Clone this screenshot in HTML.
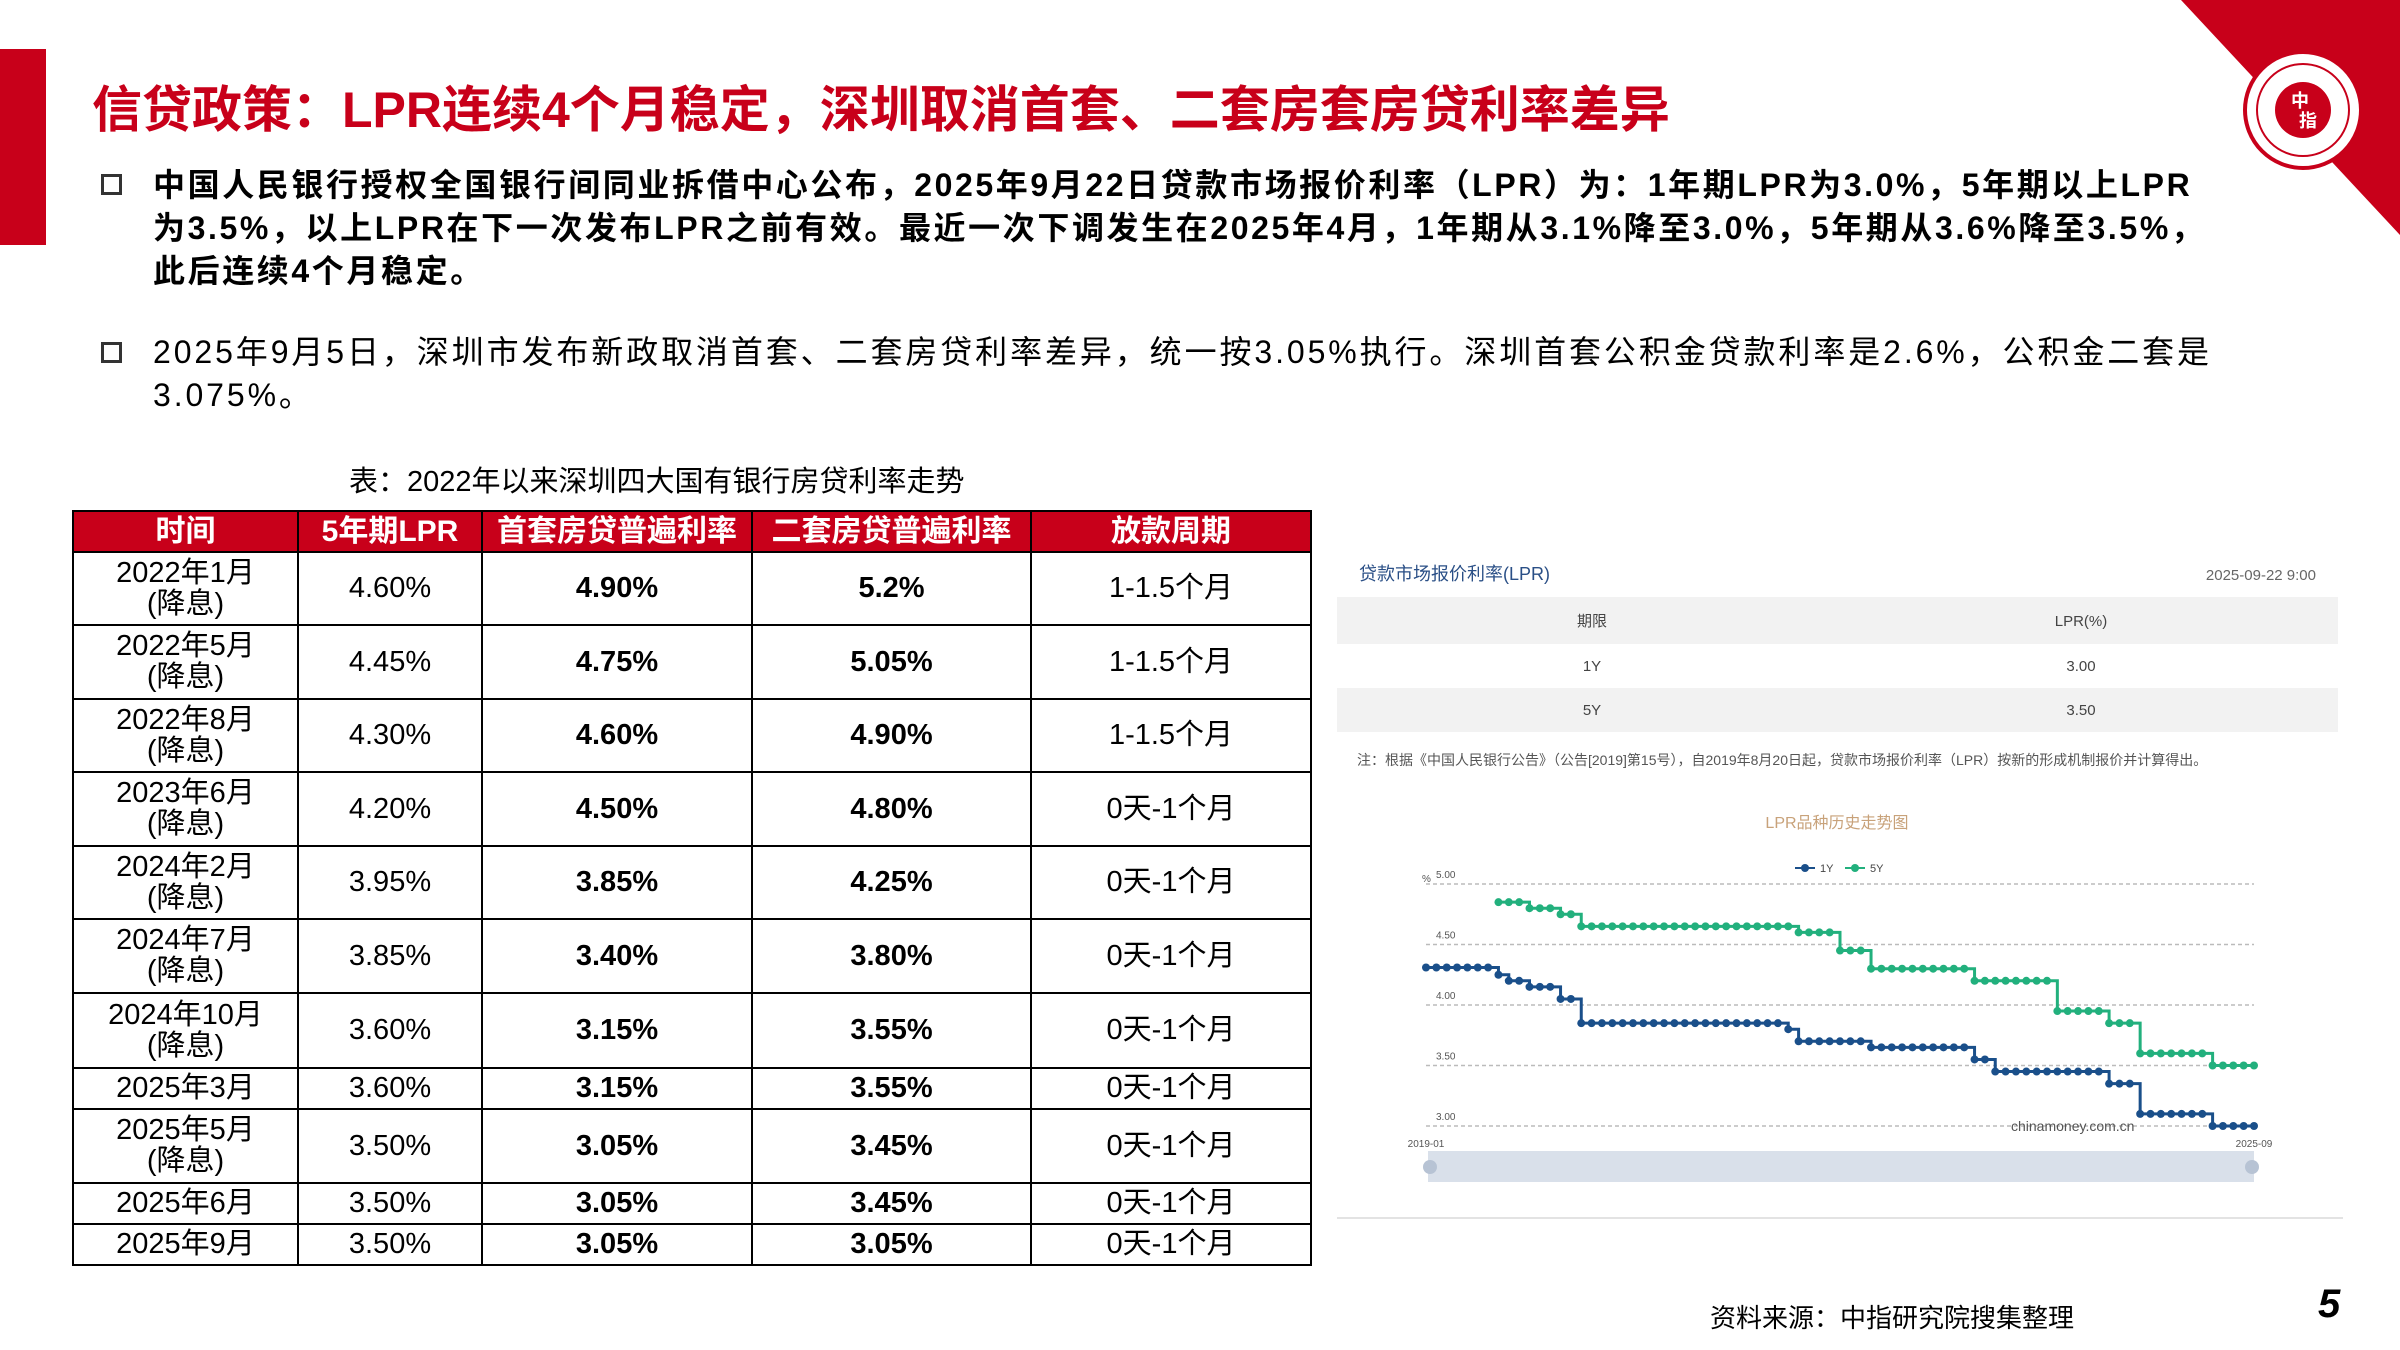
<!DOCTYPE html>
<html><head><meta charset="utf-8">
<style>
*{margin:0;padding:0;box-sizing:border-box}
body{width:2400px;height:1350px;background:#fff;position:relative;overflow:hidden;font-family:"Liberation Sans","Noto Sans CJK SC",sans-serif;color:#000}
.abs{position:absolute;white-space:nowrap}
#title{left:92px;top:70px;font-size:50px;font-weight:bold;color:#c8001a;letter-spacing:0px}
.b1{left:153px;font-size:32px;font-weight:bold;line-height:43px;letter-spacing:2.6px}
.b2{left:153px;font-size:32px;line-height:43px;letter-spacing:2.9px}
.sq{position:absolute;width:21px;height:21px;border:3px solid #333;background:#fff}
table{position:absolute;left:72px;top:510px;border-collapse:collapse;font-size:29px;text-align:center}
td,th{border:2px solid #000;padding:0;line-height:31px}
th{background:#c8001a;color:#fff;height:41px;font-size:30px}
td.b{font-weight:bold}
</style></head><body>
<div class="abs" style="left:0;top:49px;width:46px;height:196px;background:#c8001a"></div>
<svg class="abs" style="left:0;top:0" width="2400" height="260">
<polygon points="2181,0 2400,0 2400,235" fill="#c8001a"/>
<circle cx="2303" cy="110" r="58" fill="#fff" stroke="#c8001a" stroke-width="4"/>
<circle cx="2303" cy="110" r="46" fill="none" stroke="#c8001a" stroke-width="2"/>
<circle cx="2303" cy="110" r="28" fill="#c8001a"/>
<text x="2300" y="107" font-size="18" fill="#fff" text-anchor="middle" font-weight="bold">中</text>
<text x="2308" y="127" font-size="18" fill="#fff" text-anchor="middle" font-weight="bold">指</text>
</svg>
<div id="title" class="abs">信贷政策：LPR连续4个月稳定，深圳取消首套、二套房套房贷利率差异</div>
<div class="sq" style="left:101px;top:174px"></div>
<div class="abs b1" style="top:164px">中国人民银行授权全国银行间同业拆借中心公布，2025年9月22日贷款市场报价利率（LPR）为：1年期LPR为3.0%，5年期以上LPR<br>为3.5%，以上LPR在下一次发布LPR之前有效。最近一次下调发生在2025年4月，1年期从3.1%降至3.0%，5年期从3.6%降至3.5%，<br>此后连续4个月稳定。</div>
<div class="sq" style="left:101px;top:342px"></div>
<div class="abs b2" style="top:331px">2025年9月5日，深圳市发布新政取消首套、二套房贷利率差异，统一按3.05%执行。深圳首套公积金贷款利率是2.6%，公积金二套是<br>3.075%。</div>
<div class="abs" style="left:349px;top:458px;font-size:29px">表：2022年以来深圳四大国有银行房贷利率走势</div>
<table>
<tr><th style="width:225px">时间</th><th style="width:184px">5年期LPR</th><th style="width:270px">首套房贷普遍利率</th><th style="width:279px">二套房贷普遍利率</th><th style="width:280px">放款周期</th></tr>
<tr style="height:73px"><td>2022年1月<br>(降息)</td><td>4.60%</td><td class="b">4.90%</td><td class="b">5.2%</td><td>1-1.5个月</td></tr>
<tr style="height:74px"><td>2022年5月<br>(降息)</td><td>4.45%</td><td class="b">4.75%</td><td class="b">5.05%</td><td>1-1.5个月</td></tr>
<tr style="height:73px"><td>2022年8月<br>(降息)</td><td>4.30%</td><td class="b">4.60%</td><td class="b">4.90%</td><td>1-1.5个月</td></tr>
<tr style="height:74px"><td>2023年6月<br>(降息)</td><td>4.20%</td><td class="b">4.50%</td><td class="b">4.80%</td><td>0天-1个月</td></tr>
<tr style="height:73px"><td>2024年2月<br>(降息)</td><td>3.95%</td><td class="b">3.85%</td><td class="b">4.25%</td><td>0天-1个月</td></tr>
<tr style="height:74px"><td>2024年7月<br>(降息)</td><td>3.85%</td><td class="b">3.40%</td><td class="b">3.80%</td><td>0天-1个月</td></tr>
<tr style="height:75px"><td>2024年10月<br>(降息)</td><td>3.60%</td><td class="b">3.15%</td><td class="b">3.55%</td><td>0天-1个月</td></tr>
<tr style="height:41px"><td>2025年3月</td><td>3.60%</td><td class="b">3.15%</td><td class="b">3.55%</td><td>0天-1个月</td></tr>
<tr style="height:74px"><td>2025年5月<br>(降息)</td><td>3.50%</td><td class="b">3.05%</td><td class="b">3.45%</td><td>0天-1个月</td></tr>
<tr style="height:41px"><td>2025年6月</td><td>3.50%</td><td class="b">3.05%</td><td class="b">3.45%</td><td>0天-1个月</td></tr>
<tr style="height:41px"><td>2025年9月</td><td>3.50%</td><td class="b">3.05%</td><td class="b">3.05%</td><td>0天-1个月</td></tr>
</table>
<svg id="ch" class="abs" style="left:0;top:0" width="2400" height="1350" font-family="Liberation Sans, Noto Sans CJK SC, sans-serif">
<text x="1359" y="580" font-size="18" fill="#2a4f86">贷款市场报价利率(LPR)</text>
<text x="2316" y="580" font-size="15" fill="#666" text-anchor="end">2025-09-22 9:00</text>
<rect x="1337" y="597" width="1001" height="47" fill="#f2f2f2"/>
<rect x="1337" y="688" width="1001" height="44" fill="#f2f2f2"/>
<g font-size="15" fill="#444" text-anchor="middle">
<text x="1592" y="626">期限</text><text x="2081" y="626">LPR(%)</text>
<text x="1592" y="671">1Y</text><text x="2081" y="671">3.00</text>
<text x="1592" y="715">5Y</text><text x="2081" y="715">3.50</text></g>
<text x="1357" y="765" font-size="14" fill="#555">注：根据《中国人民银行公告》（公告[2019]第15号），自2019年8月20日起，贷款市场报价利率（LPR）按新的形成机制报价并计算得出。</text>
<text x="1837" y="828" font-size="16" fill="#c8a27a" text-anchor="middle">LPR品种历史走势图</text>
<g font-size="11" fill="#444">
<line x1="1795" y1="868" x2="1815" y2="868" stroke="#1a4f8a" stroke-width="2"/><circle cx="1805" cy="868" r="4" fill="#1a4f8a"/><text x="1820" y="872">1Y</text>
<line x1="1845" y1="868" x2="1865" y2="868" stroke="#22b07d" stroke-width="2"/><circle cx="1855" cy="868" r="4" fill="#22b07d"/><text x="1870" y="872">5Y</text>
</g>
<g id="grid" stroke="#bbb" stroke-dasharray="4,3" stroke-width="1.5"></g>
<g id="lbl" font-size="10" fill="#555"></g>
<text x="1422" y="882" font-size="10" fill="#555">%</text>
<text x="1426" y="1147" font-size="10" fill="#555" text-anchor="middle">2019-01</text>
<text x="2254" y="1147" font-size="10" fill="#555" text-anchor="middle">2025-09</text>
<text x="2011" y="1131" font-size="14" fill="#555">chinamoney.com.cn</text>
<rect x="1428" y="1151" width="826" height="31" fill="#d9e0ea"/>
<circle cx="1430" cy="1167" r="7" fill="#b7c3d4"/><circle cx="2252" cy="1167" r="7" fill="#b7c3d4"/>
<line x1="1337" y1="1218" x2="2343" y2="1218" stroke="#e3e3e3" stroke-width="2"/>
<g id="s1"></g><g id="s2"></g>
</svg>
<div class="abs" style="left:1710px;top:1298px;font-size:26px">资料来源：中指研究院搜集整理</div>
<div class="abs" style="left:2318px;top:1282px;font-size:40px;font-weight:bold;font-style:italic">5</div>
<script>
var ns="http://www.w3.org/2000/svg";
var Y0=1126,K=121;
function el(t,a,p){var e=document.createElementNS(ns,t);for(var k in a)e.setAttribute(k,a[k]);document.getElementById(p).appendChild(e);return e;}
[5,4.5,4,3.5,3].forEach(function(v){var y=Y0-(v-3)*K;el("line",{x1:1426,x2:2254,y1:y,y2:y},"grid");var t=el("text",{x:1436,y:y-6},"lbl");t.textContent=v.toFixed(2);});
function seg(list){var a=[];list.forEach(function(p){for(var i=0;i<p[1];i++)a.push(p[0]);});return a;}
var y1=seg([[4.31,7],[4.25,1],[4.20,2],[4.15,3],[4.05,2],[3.85,20],[3.80,1],[3.70,7],[3.65,10],[3.55,2],[3.45,11],[3.35,3],[3.10,7],[3.00,5]]);
var y5=seg([[4.85,3],[4.80,3],[4.75,2],[4.65,21],[4.60,4],[4.45,3],[4.30,10],[4.20,8],[3.95,5],[3.85,3],[3.60,7],[3.50,5]]);
var dx=(2254-1426)/80;
function draw(arr,start,col,id){var pts=[];arr.forEach(function(v,i){var x=1426+(start+i)*dx,y=Y0-(v-3)*K;if(i>0)pts.push([x,pts[pts.length-1][1]]);pts.push([x,y]);});
el("polyline",{points:pts.map(function(p){return p.join(",")}).join(" "),fill:"none",stroke:col,"stroke-width":3},id);
arr.forEach(function(v,i){el("circle",{cx:1426+(start+i)*dx,cy:Y0-(v-3)*K,r:4,fill:col},id);});}
draw(y1,0,"#1a4f8a","s1");draw(y5,7,"#22b07d","s2");
</script>
</body></html>
